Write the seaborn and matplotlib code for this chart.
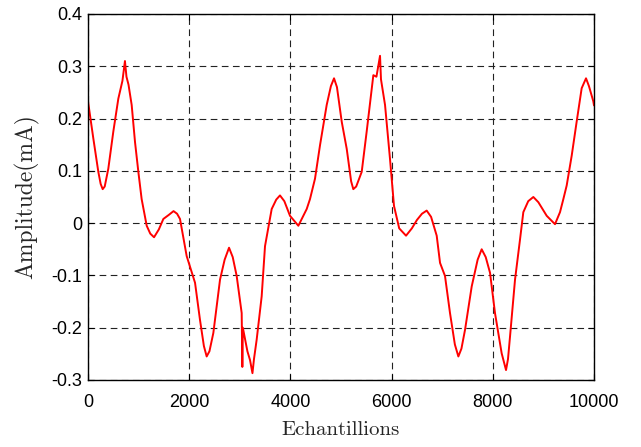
import matplotlib
matplotlib.use("Agg")
import matplotlib.pyplot as plt
import seaborn as sns
import pandas as pd

# points (sample index, amplitude in mA)
echantillons = [0, 105, 204, 250, 290, 330, 401, 500, 599, 680, 730, 760, 800, 863,
                929, 995, 1060, 1160, 1230, 1305, 1400, 1489, 1600, 1690, 1760,
                1818, 1950, 2115, 2213, 2290, 2345, 2400, 2477, 2609, 2700, 2787,
                2860, 2938, 3037, 3050, 3060, 3150, 3202, 3250, 3280, 3333, 3432,
                3498, 3630, 3720, 3794, 3880, 3992, 4157, 4322, 4387, 4486, 4585,
                4717, 4800, 4862, 4920, 5014, 5113, 5200, 5243, 5300, 5409, 5507,
                5639, 5700, 5771, 5790, 5870, 5968, 6047, 6150, 6285, 6400, 6500,
                6600, 6693, 6780, 6891, 6957, 7055, 7154, 7250, 7319, 7380, 7451,
                7583, 7700, 7780, 7860, 7945, 8043, 8175, 8261, 8300, 8340, 8439,
                8538, 8603, 8700, 8801, 8900, 9065, 9229, 9328, 9394, 9460, 9559,
                9657, 9756, 9842, 9900, 9986, 10000]
amplitude = [0.233, 0.162, 0.098, 0.075, 0.065, 0.07, 0.104, 0.175, 0.238, 0.272,
             0.31, 0.28, 0.265, 0.226, 0.155, 0.098, 0.046, -0.005, -0.02, -0.027,
             -0.012, 0.008, 0.016, 0.023, 0.018, 0.008, -0.063, -0.114, -0.185,
             -0.235, -0.255, -0.245, -0.21, -0.108, -0.07, -0.047, -0.065, -0.101,
             -0.172, -0.275, -0.2, -0.245, -0.262, -0.287, -0.26, -0.223, -0.14,
             -0.044, 0.027, 0.045, 0.053, 0.042, 0.014, -0.005, 0.027, 0.046,
             0.085, 0.149, 0.226, 0.262, 0.277, 0.26, 0.194, 0.142, 0.08, 0.065,
             0.07, 0.098, 0.175, 0.283, 0.28, 0.32, 0.275, 0.226, 0.123, 0.033,
             -0.01, -0.024, -0.01, 0.006, 0.018, 0.024, 0.012, -0.024, -0.076,
             -0.101, -0.172, -0.232, -0.255, -0.24, -0.204, -0.121, -0.07, -0.05,
             -0.065, -0.095, -0.172, -0.249, -0.281, -0.26, -0.217, -0.108, -0.031,
             0.021, 0.042, 0.05, 0.04, 0.014, -0.002, 0.021, 0.046, 0.072, 0.129,
             0.194, 0.258, 0.277, 0.262, 0.233, 0.225]

xticks = [0, 2000, 4000, 6000, 8000, 10000]
yticks = [-0.3, -0.2, -0.1, 0, 0.1, 0.2, 0.3, 0.4]
yticklabels = ['-0.3', '-0.2', '-0.1', '0', '0.1', '0.2', '0.3', '0.4']

sns.set_style("ticks")
plt.rcParams['font.family'] = ['Liberation Sans', 'DejaVu Sans']
plt.rcParams['axes.unicode_minus'] = False

df = pd.DataFrame({'Echantillions': echantillons, 'Amplitude': amplitude})

fig = plt.figure(figsize=(6.41, 4.47), dpi=100)
ax = fig.add_axes([0.1373, 0.1499, 0.7894, 0.8188])

sns.lineplot(data=df, x='Echantillions', y='Amplitude', color='red',
             linewidth=1.4, ax=ax)

ax.set_xlim(0, 10000)
ax.set_ylim(-0.3, 0.4)
ax.set_xticks(xticks)
ax.set_yticks(yticks)
ax.set_yticklabels(yticklabels)
ax.tick_params(direction='in', length=4, width=0.8, labelsize=13, colors='black',
               top=True, right=True)
ax.tick_params(axis='x', pad=10)
ax.tick_params(axis='y', pad=4)
ax.grid(True, color='#222222', linestyle=(0, (6, 4)), linewidth=0.8)
for s in ax.spines.values():
    s.set_visible(True)
    s.set_color('black')
    s.set_linewidth(1.0)

ax.set_xlabel('Echantillions', fontfamily='cmr10', fontsize=15, labelpad=7)
ax.set_ylabel('Amplitude(mA)', fontfamily='cmr10', fontsize=17, labelpad=9)

fig.savefig('out.png', dpi=100)
